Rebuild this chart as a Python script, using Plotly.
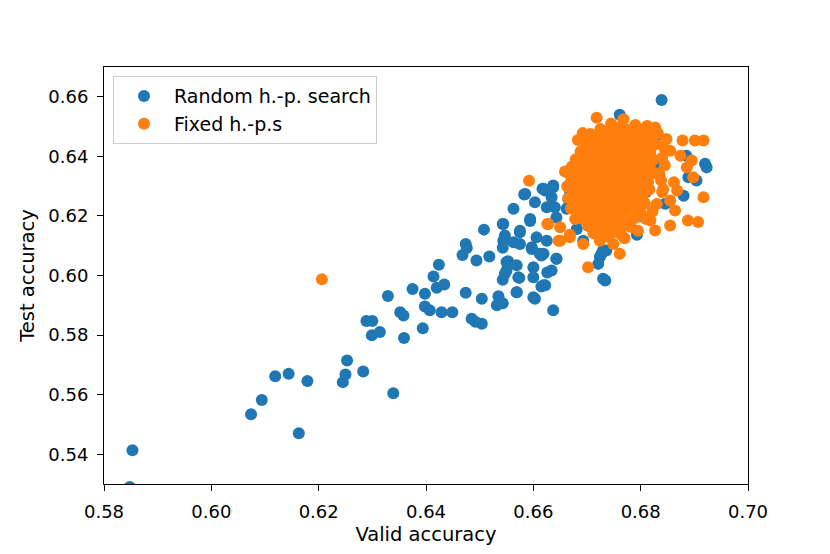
import plotly.graph_objects as go

# Random h.-p. search runs (valid accuracy, test accuracy)
random_valid = [
    0.5848, 0.5853, 0.6074, 0.6094, 0.6119, 0.6144, 0.6163, 0.6179,
    0.6245, 0.6250, 0.6253, 0.6283, 0.6339,
    0.6289, 0.6300, 0.6299, 0.6314, 0.6329, 0.6352, 0.6358, 0.6359, 0.6375, 0.6394,
    0.6398, 0.6398, 0.6407, 0.6414, 0.6424, 0.6420, 0.6434, 0.6429, 0.6449, 0.6474,
    0.6485, 0.6492, 0.6504, 0.6504, 0.6468, 0.6474, 0.6476, 0.6494, 0.6518, 0.6508,
    0.6535, 0.6532, 0.6543, 0.6543, 0.6550, 0.6553, 0.6569, 0.6574, 0.6569, 0.6543,
    0.6547, 0.6543, 0.6563, 0.6575, 0.6563, 0.6583, 0.6603, 0.6594, 0.6600, 0.6603,
    0.6619, 0.6597, 0.6612, 0.6617, 0.6637, 0.6626,
    0.6585, 0.6619, 0.6637, 0.6634, 0.6640, 0.6662, 0.6665, 0.6594, 0.6544, 0.6575,
    0.6606, 0.6544, 0.6575, 0.6625, 0.6597, 0.6615, 0.6643, 0.6550, 0.6600, 0.6634,
    0.6572, 0.6547, 0.6615, 0.6569, 0.6600, 0.6730, 0.6724, 0.6736, 0.6681, 0.6687,
    0.6643, 0.6622, 0.6619, 0.6637, 0.6622, 0.6625, 0.6643, 0.6665, 0.6668, 0.6693,
    0.6687, 0.6734, 0.6721, 0.6727, 0.6674, 0.6730,
    0.6839, 0.6761, 0.6920, 0.6923, 0.6904, 0.6880, 0.6889, 0.6793, 0.6836, 0.6885, 0.6846,
    0.6720, 0.6750, 0.6780, 0.6800, 0.6760, 0.6740, 0.6700, 0.6810, 0.6830, 0.6770,
]
random_test = [
    0.5290, 0.5413, 0.5534, 0.5582, 0.5662, 0.5670, 0.5470, 0.5646,
    0.5642, 0.5668, 0.5715, 0.5678, 0.5605,
    0.5847, 0.5847, 0.5799, 0.5810, 0.5931, 0.5877, 0.5866, 0.5790, 0.5955, 0.5823,
    0.5939, 0.5896, 0.5883, 0.5997, 0.6036, 0.5959, 0.5970, 0.5877, 0.5877, 0.5942,
    0.5855, 0.5845, 0.5838, 0.5922, 0.6069, 0.6106, 0.6092, 0.6050, 0.6064, 0.6154,
    0.5930, 0.5900, 0.5907, 0.5986, 0.6017, 0.6048, 0.6034, 0.5992, 0.5944, 0.6093,
    0.6134, 0.6173, 0.6112, 0.6145, 0.6224, 0.6272, 0.6246, 0.6190, 0.5994, 0.5922,
    0.5967, 0.6095, 0.6073, 0.6291, 0.5883, 0.6010,
    0.6274, 0.6291, 0.6302, 0.6263, 0.6229, 0.6224, 0.6257, 0.6183, 0.6173, 0.6150,
    0.6128, 0.6117, 0.6106, 0.6117, 0.6089, 0.6067, 0.6056, 0.6045, 0.6028, 0.6017,
    0.5994, 0.6006, 0.5963, 0.5944, 0.5927, 0.5989, 0.6062, 0.6084, 0.6156, 0.6190,
    0.6056, 0.5967, 0.6073, 0.6296, 0.6285, 0.6229, 0.6195, 0.6229, 0.6285, 0.6117,
    0.6397, 0.5983, 0.6039, 0.6073, 0.6252, 0.6084,
    0.6589, 0.6540, 0.6375, 0.6363, 0.6319, 0.6268, 0.6330, 0.6137, 0.6442, 0.6402, 0.6241,
    0.6300, 0.6250, 0.6350, 0.6200, 0.6400, 0.6450, 0.6330, 0.6280, 0.6380, 0.6220,
]

# Fixed h.-p.s runs: scattered points around the cluster
fixed_outer_valid = [
    0.6206, 0.6592, 0.6626,
    0.6718, 0.6768, 0.6745, 0.6790, 0.6827, 0.6806, 0.6706, 0.6735, 0.6760, 0.6778,
    0.6800, 0.6820, 0.6848, 0.6878, 0.6901, 0.6917, 0.6699, 0.6725, 0.6752, 0.6790,
    0.6815, 0.6840,
    0.6681, 0.6855, 0.6874, 0.6886, 0.6898, 0.6862, 0.6868, 0.6855, 0.6864, 0.6830,
    0.6888, 0.6907, 0.6855, 0.6827, 0.6818, 0.6895, 0.6917, 0.6845,
    0.6659, 0.6628, 0.6650, 0.6650, 0.6668, 0.6693, 0.6724, 0.6749, 0.6761, 0.6702,
    0.6647, 0.6668, 0.6740, 0.6770, 0.6795, 0.6840, 0.6835,
    0.6683, 0.6692, 0.6812, 0.6832, 0.6845, 0.6840, 0.6838, 0.6842, 0.6822, 0.6810,
    0.6663, 0.6665, 0.6670, 0.6678,
]
fixed_outer_test = [
    0.5987, 0.6318, 0.6173,
    0.6530, 0.6525, 0.6510, 0.6505, 0.6497, 0.6492, 0.6475, 0.6480, 0.6488, 0.6470,
    0.6478, 0.6465, 0.6458, 0.6453, 0.6453, 0.6453, 0.6441, 0.6455, 0.6460, 0.6450,
    0.6445, 0.6440,
    0.6386, 0.6419, 0.6402, 0.6363, 0.6330, 0.6313, 0.6285, 0.6252, 0.6218, 0.6240,
    0.6185, 0.6180, 0.6168, 0.6151, 0.6185, 0.6386, 0.6263, 0.6370,
    0.6349, 0.6173, 0.6162, 0.6117, 0.6137, 0.6106, 0.6117, 0.6106, 0.6073, 0.6028,
    0.6117, 0.6128, 0.6130, 0.6125, 0.6150, 0.6280, 0.6340,
    0.6455, 0.6478, 0.6502, 0.6478, 0.6425, 0.6395, 0.6320, 0.6290, 0.6215, 0.6190,
    0.6300, 0.6260, 0.6225, 0.6190,
]

# Fixed h.-p.s runs: dense core of the cluster
fixed_core_valid = [
    0.6725, 0.6742, 0.6758, 0.6775, 0.6790,
    0.6712, 0.6728, 0.6745, 0.6762, 0.6778, 0.6795, 0.6810,
    0.6698, 0.6713, 0.6731, 0.6747, 0.6763, 0.6779, 0.6796, 0.6812, 0.6826,
    0.6688, 0.6704, 0.6721, 0.6737, 0.6753, 0.6769, 0.6786, 0.6802, 0.6818,
    0.6679, 0.6695, 0.6711, 0.6727, 0.6744, 0.6760, 0.6776, 0.6793, 0.6809, 0.6824,
    0.6672, 0.6688, 0.6704, 0.6720, 0.6736, 0.6752, 0.6768, 0.6784, 0.6801, 0.6817,
    0.6668, 0.6684, 0.6700, 0.6716, 0.6732, 0.6748, 0.6764, 0.6780, 0.6796, 0.6812, 0.6828,
    0.6670, 0.6686, 0.6702, 0.6718, 0.6734, 0.6750, 0.6766, 0.6782, 0.6798, 0.6814,
    0.6672, 0.6688, 0.6704, 0.6720, 0.6736, 0.6752, 0.6768, 0.6784, 0.6800, 0.6816,
    0.6676, 0.6692, 0.6708, 0.6724, 0.6740, 0.6756, 0.6772, 0.6788, 0.6804,
    0.6680, 0.6696, 0.6712, 0.6728, 0.6744, 0.6760, 0.6776, 0.6792, 0.6808,
    0.6688, 0.6704, 0.6720, 0.6736, 0.6752, 0.6768, 0.6784, 0.6800,
    0.6694, 0.6710, 0.6726, 0.6742, 0.6758, 0.6774, 0.6790,
    0.6702, 0.6718, 0.6734, 0.6750, 0.6766, 0.6782,
    0.6712, 0.6730, 0.6748, 0.6764,
]
fixed_core_test = [
    0.6492, 0.6486, 0.6495, 0.6489, 0.6484,
    0.6468, 0.6462, 0.6470, 0.6463, 0.6467, 0.6460, 0.6466,
    0.6441, 0.6437, 0.6444, 0.6436, 0.6442, 0.6438, 0.6445, 0.6437, 0.6440,
    0.6416, 0.6411, 0.6418, 0.6413, 0.6419, 0.6410, 0.6417, 0.6412, 0.6415,
    0.6390, 0.6387, 0.6393, 0.6386, 0.6392, 0.6388, 0.6394, 0.6385, 0.6391, 0.6389,
    0.6366, 0.6362, 0.6368, 0.6361, 0.6367, 0.6363, 0.6369, 0.6360, 0.6366, 0.6364,
    0.6340, 0.6337, 0.6343, 0.6336, 0.6342, 0.6338, 0.6344, 0.6335, 0.6341, 0.6339, 0.6343,
    0.6315, 0.6312, 0.6318, 0.6311, 0.6317, 0.6313, 0.6319, 0.6310, 0.6316, 0.6314,
    0.6290, 0.6287, 0.6293, 0.6286, 0.6292, 0.6288, 0.6294, 0.6285, 0.6291, 0.6289,
    0.6266, 0.6262, 0.6268, 0.6261, 0.6267, 0.6263, 0.6269, 0.6260, 0.6266,
    0.6240, 0.6237, 0.6243, 0.6236, 0.6242, 0.6238, 0.6244, 0.6235, 0.6241,
    0.6215, 0.6212, 0.6218, 0.6211, 0.6217, 0.6213, 0.6219, 0.6210,
    0.6190, 0.6187, 0.6193, 0.6186, 0.6192, 0.6188, 0.6194,
    0.6166, 0.6162, 0.6168, 0.6161, 0.6167, 0.6163,
    0.6142, 0.6138, 0.6144, 0.6137,
]

fixed_valid = fixed_outer_valid + fixed_core_valid
fixed_test = fixed_outer_test + fixed_core_test

fig = go.Figure()
fig.add_trace(go.Scatter(
    x=random_valid, y=random_test, mode="markers", name="Random h.-p. search",
    marker=dict(color="#1f77b4", size=12, line=dict(width=0)),
))
fig.add_trace(go.Scatter(
    x=fixed_valid, y=fixed_test, mode="markers", name="Fixed h.-p.s",
    marker=dict(color="#ff7f0e", size=12, line=dict(width=0)),
))

axis_style = dict(
    showgrid=False, zeroline=False, showline=True, linecolor="black", linewidth=1,
    mirror=True, ticks="outside", ticklen=6, tickcolor="black", ticklabelstandoff=5,
    tickfont=dict(size=18, color="black"), tickformat=".2f", dtick=0.02,
)

fig.update_layout(
    width=830, height=554,
    # the page body adds an 8px offset, so margins are shifted to compensate
    margin=dict(l=96, r=90, t=59, b=78),
    paper_bgcolor="white", plot_bgcolor="white",
    font=dict(family="DejaVu Sans", size=18, color="black"),
    xaxis=dict(range=[0.58, 0.70], title=dict(text="Valid accuracy", font=dict(size=19.5), standoff=6), **axis_style),
    yaxis=dict(range=[0.53, 0.67], title=dict(text="Test accuracy", font=dict(size=19.5), standoff=8), **axis_style),
    legend=dict(
        x=0.014, y=0.978, xanchor="left", yanchor="top",
        bgcolor="rgba(255,255,255,0.8)", bordercolor="#cccccc", borderwidth=1,
        font=dict(size=19), itemsizing="constant", itemwidth=50, tracegroupgap=0,
    ),
    showlegend=True,
)

fig.write_html("out.html")
